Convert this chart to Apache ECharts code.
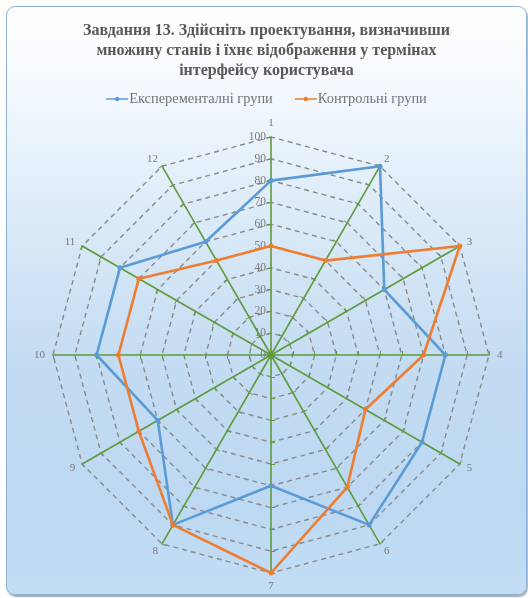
<!DOCTYPE html>
<html>
<head>
<meta charset="utf-8">
<script src="https://cdn.jsdelivr.net/npm/echarts@6/dist/echarts.min.js"></script>
<style>
  html, body { margin: 0; padding: 0; background: #ffffff; }
  #frame {
    position: absolute; left: 6px; top: 6px; width: 519px; height: 587px;
    border: 1px solid #8fb2d6; border-radius: 9px;
    box-shadow: 1px 2px 2px rgba(90, 90, 90, 0.55);
    background: linear-gradient(to bottom, #ffffff 0%, #f6fafe 12%, #dcebf8 35%, #c4dcf2 60%, #bdd8f2 85%, #c3ddf5 100%);
    overflow: hidden;
  }
  #chart { position: absolute; left: 0; top: 0; width: 519px; height: 587px; }
</style>
</head>
<body>
<div id="frame"><div id="chart"></div></div>
<script>
// Spoke labels around the radar, listed clockwise from the top
const categories = ['1', '2', '3', '4', '5', '6', '7', '8', '9', '10', '11', '12'];
// Scores per task step, experimental vs. control groups
const experimental = [80, 100, 60, 80, 80, 90, 60, 90, 60, 80, 80, 60];
const control = [50, 50, 100, 70, 50, 70, 100, 90, 70, 70, 70, 50];
const seriesNames = ['Експеременталні групи', 'Контрольні групи'];
const axisMax = 100;
const axisStep = 10;

// ECharts lays radar spokes out counter-clockwise; keep the first spoke on top
// and walk the rest backwards so the numbering runs clockwise.
const order = [0].concat(categories.map((_, i) => categories.length - 1 - i).slice(0, categories.length - 1));
const reorder = arr => order.map(i => arr[i]);

const serif = '"Liberation Serif", "DejaVu Serif", serif';
const center = [264, 348];
const radius = 218;
// legend glyph: a short line with a dot in the middle
const lineDot = 'path://M0,4.2H26V5.8H0Z M13,2.4A2.6,2.6,0,1,1,12.99,2.4Z';

const chart = echarts.init(document.getElementById('chart'), null, { renderer: 'canvas' });

chart.setOption({
  animation: false,
  color: ['#5b9bd5', '#ed7d31'],
  title: {
    text: 'Завдання 13. Здійсніть проектування, визначивши\nмножину станів і їхнє відображення у термінах\nінтерфейсу користувача',
    left: 'center',
    top: 9,
    textStyle: {
      fontFamily: serif, fontWeight: 'bold', fontSize: 16, lineHeight: 20, color: '#595959'
    }
  },
  legend: {
    data: seriesNames.map(n => ({ name: n, icon: lineDot })),
    top: 80,
    left: 'center',
    itemGap: 22,
    itemWidth: 22,
    itemHeight: 5,
    textStyle: { fontFamily: serif, fontSize: 14.4, color: '#737373', padding: [0, 0, 0, -4] }
  },
  radar: [
    {
      center: center,
      radius: radius,
      startAngle: 90,
      shape: 'polygon',
      splitNumber: axisMax / axisStep,
      indicator: reorder(categories).map(c => ({ name: c, max: axisMax, min: 0 })),
      axisName: { fontFamily: serif, fontSize: 11, color: '#7a7a7a' },
      nameGap: 8,
      axisLine: { lineStyle: { color: '#5f9a3c', width: 1.6 } },
      axisTick: { show: true, length: 4, lineStyle: { color: '#5f9a3c', width: 1 } },
      splitLine: { lineStyle: { color: '#8a8a8a', width: 1.4, type: [5, 4] } },
      splitArea: { show: false },
      axisLabel: { show: false }
    },
    {
      // scale labels along the first spoke only
      center: center,
      radius: radius,
      startAngle: 90,
      splitNumber: axisMax / axisStep,
      indicator: [{ name: '', max: axisMax, min: 0 }],
      axisLine: { show: false },
      axisTick: { show: false },
      splitLine: { show: false },
      splitArea: { show: false },
      axisLabel: {
        show: true, fontFamily: serif, fontSize: 11.5, color: '#7a7a7a', margin: 5
      }
    }
  ],
  series: [
    {
      type: 'radar',
      radarIndex: 0,
      symbol: 'circle',
      symbolSize: 5,
      data: [
        {
          name: seriesNames[0], value: reorder(experimental),
          lineStyle: { width: 2.6, color: '#5b9bd5' }, itemStyle: { color: '#5b9bd5' }
        },
        {
          name: seriesNames[1], value: reorder(control),
          lineStyle: { width: 2.6, color: '#ed7d31' }, itemStyle: { color: '#ed7d31' }
        }
      ]
    }
  ]
});
</script>
</body>
</html>
